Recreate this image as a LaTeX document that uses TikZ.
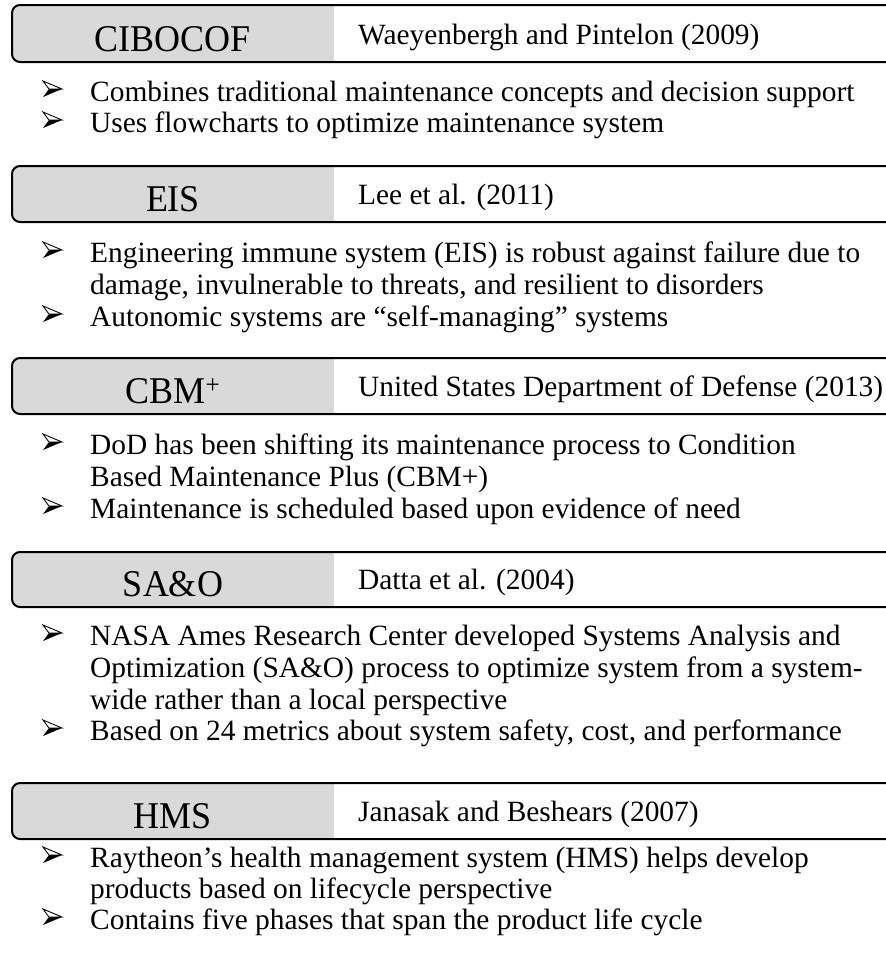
\documentclass[tikz,border=0pt]{standalone}
\usepackage{fontspec}
\setmainfont{Liberation Serif}
\usetikzlibrary{positioning}

\definecolor{hdrgray}{HTML}{D9D9D9}

\tikzset{
  hdrframe/.style={draw=black, line width=2pt, rounded corners=8pt},
  hdrtext/.style={font=\fontsize{36}{40}\selectfont, anchor=base, inner sep=0pt, yscale=1.05},
  reftext/.style={font=\fontsize{29.4}{32}\selectfont, anchor=base west, inner sep=0pt},
  bodytext/.style={font=\fontsize{29.4}{32}\selectfont, anchor=base west, inner sep=0pt},
  arrowbul/.pic={
    \draw[line width=0.9pt, line join=miter] (0,-20) -- (19,-12) -- (6,-12) -- cycle; % lit upper half
    \fill (6,-12) -- (19,-12) -- (0,-4) -- cycle; % dark lower half
  },
}

% header bar: #1 name, #2 top, #3 bottom, #4 title, #5 reference
\newcommand{\hdrbar}[5]{
  \fill[hdrgray, rounded corners=8pt] (12,#2) rectangle (900,#3);
  \fill[white] (334,#2) rectangle (886,#3);
  \draw[hdrframe] (890,#2) -- (12,#2) -- (12,#3) -- (890,#3);
  \node[hdrtext] (#1) at (173,#3-11) {#4};
  \node[reftext] (#1ref) at (358,#3-18) {#5};
}

\begin{document}
\begin{tikzpicture}[x=1pt,y=-1pt]

    \useasboundingbox (0,0) rectangle (886,956);
    \clip (0,0) rectangle (886,956);

    \hdrbar{cibocof}{5}{62}{CIBOCOF}{Waeyenbergh and Pintelon (2009)}
    \hdrbar{eis}{166}{222}{EIS}{Lee et al. (2011)}
    \hdrbar{cbm}{358}{414}{CBM\textsuperscript{+}}{United States Department of Defense (2013)}
    \hdrbar{sao}{552}{607}{SA\&O}{Datta et al. (2004)}
    \hdrbar{hms}{783}{839}{HMS}{Janasak and Beshears (2007)}

    % text lines: baseline / bullet or not / text
    \foreach \yy/\bul/\txt in {
      101/1/{Combines traditional maintenance concepts and decision support},
      132/1/{Uses flowcharts to optimize maintenance system},
      262/1/{Engineering immune system (EIS) is robust against failure due to},
      294/0/{damage, invulnerable to threats, and resilient to disorders},
      326/1/{Autonomic systems are “self-managing” systems},
      454/1/{DoD has been shifting its maintenance process to Condition},
      486/0/{Based Maintenance Plus (CBM+)},
      518/1/{Maintenance is scheduled based upon evidence of need},
      645/1/{NASA Ames Research Center developed Systems Analysis and},
      677/0/{Optimization (SA\&O) process to optimize system from a system-},
      709/0/{wide rather than a local perspective},
      740/1/{Based on 24 metrics about system safety, cost, and performance},
      867/1/{Raytheon’s health management system (HMS) helps develop},
      898/0/{products based on lifecycle perspective},
      929/1/{Contains five phases that span the product life cycle}} {
      \ifnum\bul=1
        \pic (b\yy) at (43,\yy) {arrowbul};
      \fi
      \node[bodytext] (t\yy) at (90,\yy) {\txt};
    }

  \end{tikzpicture}
\end{document}
